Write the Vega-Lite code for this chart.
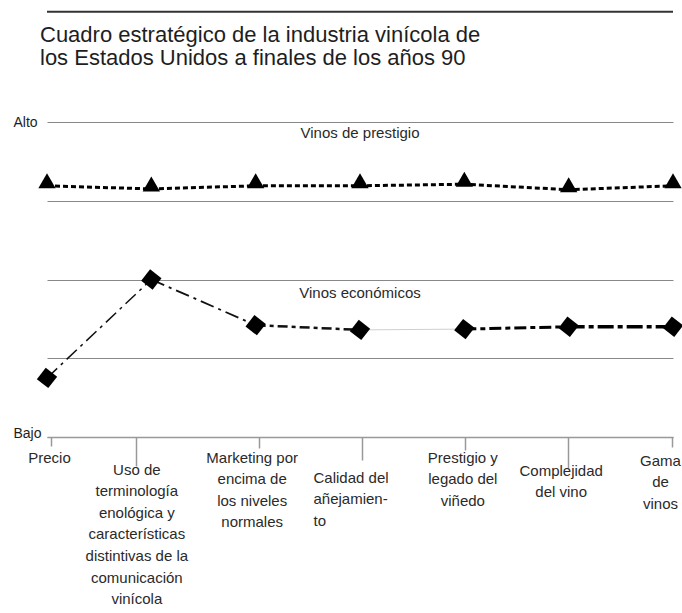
{
  "$schema": "https://vega.github.io/schema/vega-lite/v6.json",
  "width": 626,
  "height": 315,
  "autosize": {"type": "none"},
  "padding": {"left": 47, "top": 122, "right": 9, "bottom": 176},
  "background": "white",
  "config": {"font": "Liberation Sans", "view": {"stroke": null}},
  "title": {
    "text": ["Cuadro estratégico de la industria vinícola de", "los Estados Unidos a finales de los años 90"],
    "anchor": "start",
    "frame": "group",
    "dx": -7,
    "offset": -59,
    "baseline": "top",
    "fontSize": 22,
    "fontWeight": "normal",
    "lineHeight": 23,
    "color": "#1e1e1e"
  },
  "data": {
    "values": [
      {"serie": "Vinos de prestigio", "criterio": "Precio", "valor": 3.19},
      {"serie": "Vinos de prestigio", "criterio": "Uso de terminología enológica y características distintivas de la comunicación vinícola", "valor": 3.15},
      {"serie": "Vinos de prestigio", "criterio": "Marketing por encima de los niveles normales", "valor": 3.19},
      {"serie": "Vinos de prestigio", "criterio": "Calidad del añejamiento", "valor": 3.19},
      {"serie": "Vinos de prestigio", "criterio": "Prestigio y legado del viñedo", "valor": 3.21},
      {"serie": "Vinos de prestigio", "criterio": "Complejidad del vino", "valor": 3.14},
      {"serie": "Vinos de prestigio", "criterio": "Gama de vinos", "valor": 3.19},
      {"serie": "Vinos económicos", "criterio": "Precio", "valor": 0.75},
      {"serie": "Vinos económicos", "criterio": "Uso de terminología enológica y características distintivas de la comunicación vinícola", "valor": 2.0},
      {"serie": "Vinos económicos", "criterio": "Marketing por encima de los niveles normales", "valor": 1.42},
      {"serie": "Vinos económicos", "criterio": "Calidad del añejamiento", "valor": 1.36},
      {"serie": "Vinos económicos", "criterio": "Prestigio y legado del viñedo", "valor": 1.37},
      {"serie": "Vinos económicos", "criterio": "Complejidad del vino", "valor": 1.4},
      {"serie": "Vinos económicos", "criterio": "Gama de vinos", "valor": 1.4}
    ]
  },
  "layer": [
    {
      "data": {"values": [{}]},
      "mark": {"type": "rule", "color": "#333", "strokeWidth": 2},
      "encoding": {"y": {"datum": 5.4, "type": "quantitative"}}
    },
    {
      "transform": [{"filter": "datum.serie == 'Vinos de prestigio'"}],
      "mark": {"type": "line", "color": "#000", "strokeWidth": 3, "strokeDash": [5, 3]},
      "encoding": {
        "x": {
          "field": "criterio",
          "type": "nominal",
          "scale": {
            "type": "point",
            "domain": ["Precio", "Uso de terminología enológica y características distintivas de la comunicación vinícola", "Marketing por encima de los niveles normales", "Calidad del añejamiento", "Prestigio y legado del viñedo", "Complejidad del vino", "Gama de vinos"],
            "padding": 0
          },
          "axis": {
            "title": null,
            "labelExpr": "[['Precio'],['Uso de','terminología','enológica y','características','distintivas de la','comunicación','vinícola'],['Marketing por','encima de','los niveles','normales'],['Calidad del','añejamien-','to'],['Prestigio y','legado del','viñedo'],['Complejidad','del vino'],['Gama','de','vinos']][indexof(domain('x'), datum.value)]",
            "labelAngle": 0,
            "labelFontSize": 15,
            "labelColor": "#2a2a2a",
            "labelBaseline": "top",
            "labelLineHeight": 21.6,
            "labelPadding": {"expr": "[4,-4,2,10,0,-5,6][indexof(domain('x'), datum.value)]"},
            "tickOffset": {"expr": "[4,-15,3,2,1,-1,-1][indexof(domain('x'), datum.value)]"},
            "labelOffset": {"expr": "[-2,0,-7,-49,-3,-7,-12][indexof(domain('x'), datum.value)]"},
            "labelAlign": {"condition": {"test": "datum.value == 'Calidad del añejamiento'", "value": "left"}, "value": "center"},
            "labelOverlap": false,
            "labelLimit": 0,
            "labelBound": false,
            "tickSize": {"expr": "[9,29,11,23,13,31,10][indexof(domain('x'), datum.value)]"},
            "tickColor": "#999",
            "tickWidth": 1.5,
            "domainColor": "#999",
            "domainWidth": 1.5,
            "grid": false
          }
        },
        "y": {
          "field": "valor",
          "type": "quantitative",
          "scale": {"domain": [0, 4], "nice": false, "zero": false},
          "axis": {
            "title": null,
            "values": [0, 1, 2, 3, 4],
            "grid": true,
            "gridColor": "#888",
            "gridWidth": 1,
            "domain": false,
            "ticks": false,
            "labelExpr": "datum.value == 4 ? 'Alto' : datum.value == 0 ? 'Bajo' : ''",
            "labelAlign": "left",
            "labelPadding": 34,
            "labelFontSize": 14,
            "labelColor": "#1e1e1e",
            "labelBaseline": "middle",
            "labelOffset": {"expr": "datum.value == 0 ? -4 : 0"}
          }
        },
        "order": {"value": null}
      }
    },
    {
      "transform": [{"filter": "datum.serie == 'Vinos de prestigio'"}],
      "mark": {"type": "point", "shape": "triangle-up", "filled": true, "color": "#000", "size": 300, "opacity": 1, "yOffset": -5},
      "encoding": {
        "x": {"field": "criterio", "type": "nominal"},
        "y": {"field": "valor", "type": "quantitative"}
      }
    },
    {
      "transform": [
        {"filter": "datum.serie == 'Vinos económicos'"},
        {"window": [{"op": "lead", "field": "criterio", "as": "sig_criterio"}, {"op": "lead", "field": "valor", "as": "sig_valor"}]},
        {"filter": "datum.sig_criterio != null"}
      ],
      "mark": {"type": "rule", "strokeCap": "butt"},
      "encoding": {
        "x": {"field": "criterio", "type": "nominal"},
        "x2": {"field": "sig_criterio"},
        "y": {"field": "valor", "type": "quantitative"},
        "y2": {"field": "sig_valor"},
        "color": {
          "field": "criterio", "type": "nominal", "legend": null,
          "scale": {
            "domain": ["Precio", "Uso de terminología enológica y características distintivas de la comunicación vinícola", "Marketing por encima de los niveles normales", "Calidad del añejamiento", "Prestigio y legado del viñedo", "Complejidad del vino"],
            "range": ["#111", "#111", "#111", "#cfcfcf", "#000", "#000"]
          }
        },
        "strokeWidth": {
          "field": "criterio", "type": "nominal", "legend": null,
          "scale": {
            "type": "ordinal",
            "domain": ["Precio", "Uso de terminología enológica y características distintivas de la comunicación vinícola", "Marketing por encima de los niveles normales", "Calidad del añejamiento", "Prestigio y legado del viñedo", "Complejidad del vino"],
            "range": [1.5, 1.8, 2.5, 1, 3, 3.5]
          }
        },
        "strokeDash": {
          "field": "criterio", "type": "nominal", "legend": null,
          "scale": {
            "domain": ["Precio", "Uso de terminología enológica y características distintivas de la comunicación vinícola", "Marketing por encima de los niveles normales", "Calidad del añejamiento", "Prestigio y legado del viñedo", "Complejidad del vino"],
            "range": [[14, 5, 3, 5], [14, 5, 3, 5], [10, 4, 4, 4], [1, 0], [12, 4, 5, 4], [16, 4, 5, 4]]
          }
        }
      }
    },
    {
      "transform": [{"filter": "datum.serie == 'Vinos económicos'"}],
      "mark": {"type": "point", "shape": "square", "angle": 38, "filled": true, "color": "#000", "size": 210, "opacity": 1},
      "encoding": {
        "x": {"field": "criterio", "type": "nominal"},
        "y": {"field": "valor", "type": "quantitative"}
      }
    },
    {
      "data": {"values": [{}]},
      "mark": {"type": "text", "fontSize": 15, "color": "#2a2a2a", "text": "Vinos de prestigio"},
      "encoding": {
        "x": {"datum": "Calidad del añejamiento", "type": "nominal"},
        "y": {"datum": 3.86, "type": "quantitative"}
      }
    },
    {
      "data": {"values": [{}]},
      "mark": {"type": "text", "fontSize": 15, "color": "#2a2a2a", "text": "Vinos económicos"},
      "encoding": {
        "x": {"datum": "Calidad del añejamiento", "type": "nominal"},
        "y": {"datum": 1.83, "type": "quantitative"}
      }
    }
  ]
}
